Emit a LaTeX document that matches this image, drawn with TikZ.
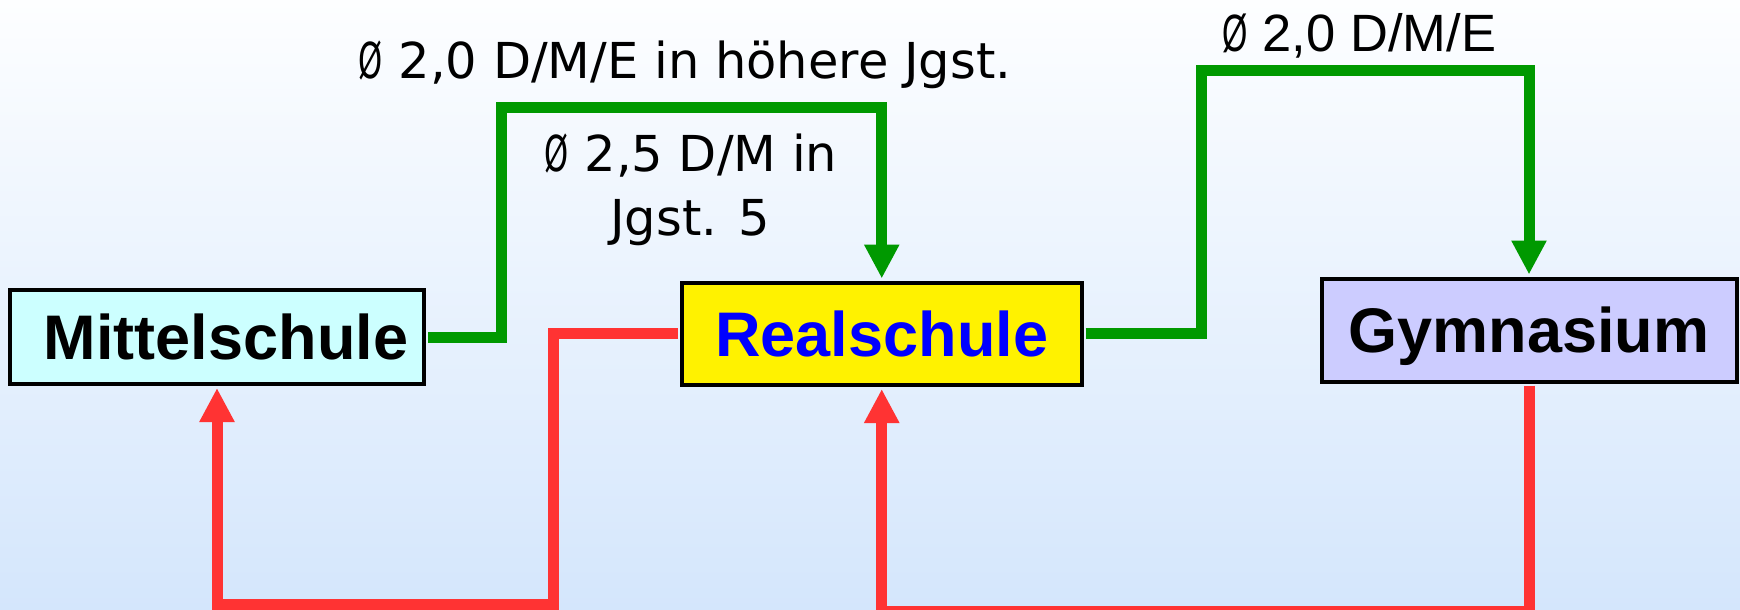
\documentclass[tikz,border=0pt]{standalone}
\usepackage{fontspec}
\usepackage{graphicx}
\setmainfont{Liberation Sans}
\newfontfamily\vfont{DejaVu Sans}
\usetikzlibrary{arrows.meta}
\newcommand{\diam}{\scalebox{0.62}[1]{Ø}}
\definecolor{gr}{RGB}{0,153,0}
\definecolor{rd}{RGB}{255,51,51}
\definecolor{mfill}{RGB}{204,255,255}
\definecolor{gfill}{RGB}{204,204,255}
\definecolor{bgtop}{RGB}{253,254,255}
\definecolor{bgmid}{RGB}{240,246,254}
\definecolor{bgbot}{RGB}{212,230,252}
\begin{document}
\begin{tikzpicture}[x=1pt,y=-1pt,
  school/.style={draw=black,line width=4pt,inner sep=0pt,
    font=\fontsize{63}{70}\selectfont\bfseries,text height=45pt,text depth=0pt},
  conn/.style={line width=11pt,-{Triangle[length=34pt,width=33pt]}},
  gline/.style={conn,draw=gr},
  rline/.style={conn,draw=rd},
  lab/.style={font=\vfont\fontsize{49.5}{63}\selectfont,inner sep=0pt,anchor=base},
  labr/.style={font=\fontsize{52.5}{60}\selectfont,inner sep=0pt,anchor=base}
]
\useasboundingbox (0,0) rectangle (1740,610);
\clip (0,0) rectangle (1740,610);
\shade[top color=bgtop,middle color=bgmid,bottom color=bgbot] (0,0) rectangle (1740,610);

\node[school,fill=mfill,minimum width=414pt,minimum height=94pt] (mittel) at (217,337) {\hspace*{18pt}Mittelschule};
\node[school,fill=yellow,text=blue,minimum width=399.5pt,minimum height=102.5pt] (real) at (881.75,333.75) {Realschule};
\node[school,fill=gfill,minimum width=415pt,minimum height=103pt] (gym) at (1529,330) {Gymnasium};

\draw[gline] ([xshift=2pt]mittel.east) -| (501.5,107) -| ([yshift=2pt]real.north);
\draw[gline] ([xshift=2pt]real.east) -| (1201,70.5) -| ([yshift=2pt]gym.north);
\draw[rline] ([xshift=-2pt]real.west) -| (553,604.5) -| ([yshift=-2pt]mittel.south);
\draw[rline] ([yshift=-2pt]gym.south) -- ++(0,225.5) -| ([yshift=-2pt]real.south);

\node[lab] (l1) at (685,78) {\diam{} 2,0 D/M/E in höhere Jgst.};
\node[lab] (l2a) at (691,171.7) {\diam{} 2,5 D/M in};
\node[lab] (l2b) at (690,235) {Jgst. 5};
\node[labr] (l3) at (1359.5,51.5) {\diam{} 2,0 D/M/E};
\end{tikzpicture}
\end{document}
